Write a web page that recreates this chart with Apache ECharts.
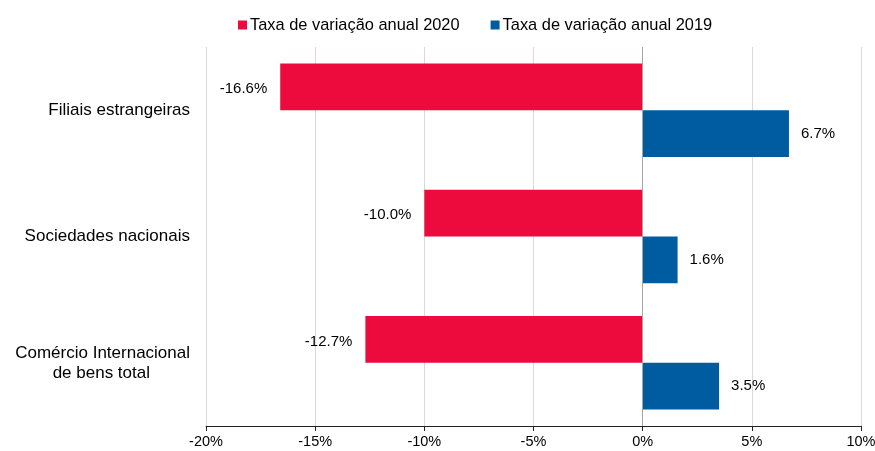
<html>
  <head>
    <meta charset="utf-8">
    <script src="https://cdn.jsdelivr.net/npm/echarts@6/dist/echarts.min.js"></script>
    <style>
      body { margin: 0; background: #fff; }
      #main { width: 875px; height: 451px; }
    </style>
  </head>
  <body>
    <div id="main"></div>
    <script>
      var categories = ['Filiais estrangeiras', 'Sociedades nacionais', 'Comércio Internacional\nde bens total'];
      var rate2020 = [-16.6, -10.0, -12.7];
      var rate2019 = [6.7, 1.6, 3.5];
      var seriesNames = ['Taxa de variação anual 2020', 'Taxa de variação anual 2019'];

      var font = 'Liberation Sans, Arial, sans-serif';
      var myChart = echarts.init(document.getElementById('main'));

      function pct(p) { return p.value.toFixed(1) + '%'; }

      var option = {
          animation: false,
          textStyle: { fontFamily: font },
          legend: {
              data: seriesNames,
              top: 12,
              left: 233,
              icon: 'rect',
              itemWidth: 9,
              itemHeight: 9,
              itemGap: 31,
              textStyle: { fontFamily: font, fontSize: 16.4, color: '#000', padding: [0, 0, 0, -2] }
          },
          grid: { left: 206, right: 14, top: 47, bottom: 25, containLabel: false, outerBoundsMode: 'none' },
          xAxis: {
              type: 'value',
              min: -20,
              max: 10,
              interval: 5,
              axisLine: { show: true, lineStyle: { color: '#222', width: 1 } },
              axisTick: { show: true, length: 5, lineStyle: { color: '#222' } },
              axisLabel: { formatter: '{value}%', fontFamily: font, fontSize: 14.5, color: '#000', margin: 8 },
              splitLine: { show: true, lineStyle: { color: '#d9d9d9', width: 1 } }
          },
          yAxis: {
              type: 'category',
              data: categories,
              inverse: true,
              axisLine: { show: false },
              axisTick: { show: false },
              axisLabel: {
                  margin: 16,
                  fontFamily: font,
                  fontSize: 17,
                  color: '#000',
                  lineHeight: 20,
                  formatter: function (v) {
                      var parts = v.split('\n');
                      if (parts.length > 1) {
                          return '{a|' + parts[0] + '}\n{b|' + parts[1] + '}';
                      }
                      return v;
                  },
                  rich: {
                      a: { fontFamily: font, fontSize: 17, color: '#000', lineHeight: 20 },
                      b: { fontFamily: font, fontSize: 17, color: '#000', lineHeight: 20, padding: [0, 40, 0, 0] }
                  }
              }
          },
          series: [
              {
                  name: seriesNames[0],
                  type: 'bar',
                  data: rate2020,
                  barGap: '0%',
                  barCategoryGap: '26%',
                  itemStyle: { color: '#ec0b3c' },
                  label: { show: true, position: 'left', distance: 13, formatter: pct, fontFamily: font, fontSize: 15, color: '#000', offset: [0, 2] },
                  markLine: {
                      silent: true,
                      symbol: 'none',
                      label: { show: false },
                      lineStyle: { color: '#a6a6a6', type: 'solid', width: 1 },
                      data: [{ xAxis: 0 }]
                  }
              },
              {
                  name: seriesNames[1],
                  type: 'bar',
                  data: rate2019,
                  barGap: '0%',
                  barCategoryGap: '26%',
                  itemStyle: { color: '#005ca1' },
                  label: { show: true, position: 'right', distance: 12, formatter: pct, fontFamily: font, fontSize: 15, color: '#000' }
              }
          ]
      };

      myChart.setOption(option);
    </script>
  </body>
</html>
